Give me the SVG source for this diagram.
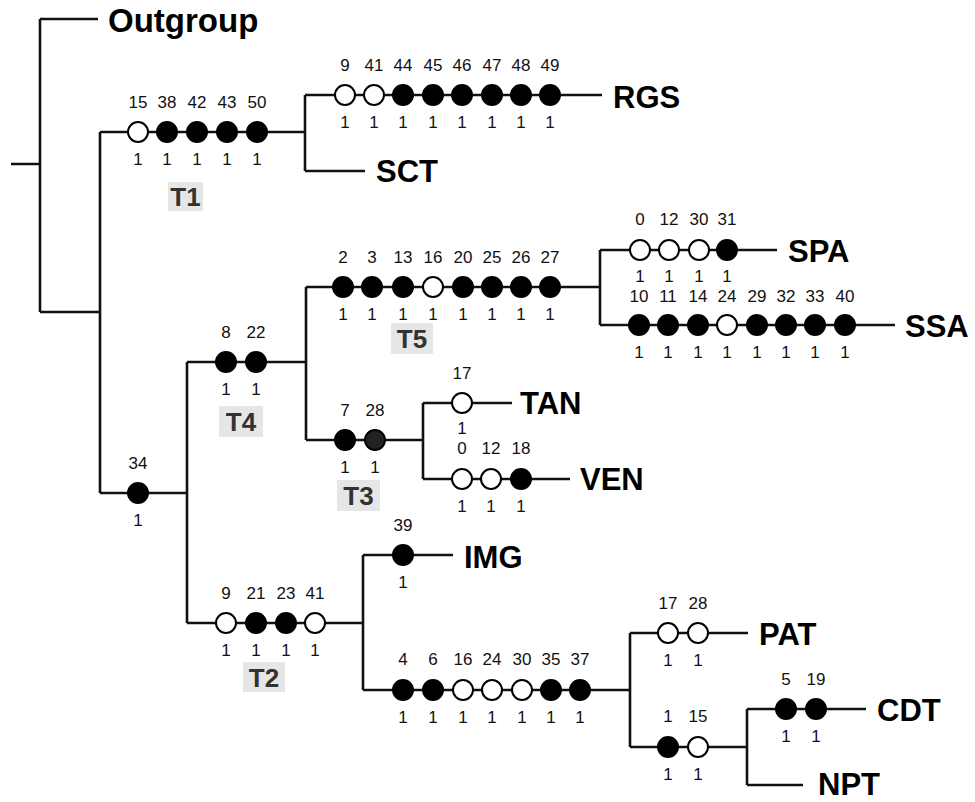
<svg xmlns="http://www.w3.org/2000/svg" width="975" height="802" viewBox="0 0 975 802">
<style>
.ln{stroke:#111;stroke-width:2.6;fill:none}
.f{fill:#000;stroke:#000;stroke-width:2}
.o{fill:#fff;stroke:#000;stroke-width:2}
.n{font-family:"Liberation Sans",Arial,sans-serif;font-size:17px;fill:#111;text-anchor:middle}
.tx{font-family:"Liberation Sans",Arial,sans-serif;font-size:31px;font-weight:bold;fill:#000}
.bx{fill:#e6e6e6}
.bt{font-family:"Liberation Sans",Arial,sans-serif;font-size:26px;font-weight:bold;fill:#333;text-anchor:middle}
</style>
<rect width="975" height="802" fill="#fff"/>
<g id="connectors" class="ln">
<path d="M11,164H40M40,19V312M40,19H98M40,312H100M100,132V493"/>
<path d="M100,132H305M305,95V171M305,95H602M305,171H365"/>
<path d="M100,493H187M187,362V623M187,362H306M306,287V440"/>
<path d="M306,287H600M600,250V325M600,250H777M600,325H895"/>
<path d="M306,440H423M423,403V479M423,403H512M423,479H570"/>
<path d="M187,623H363M363,555V690M363,555H453M363,690H630"/>
<path d="M630,633V747M630,633H748M630,747H747M747,709V785M747,709H866M747,785H803"/>
</g>
<g id="Outgroup"><text class="tx" x="108" y="32" style="font-size:33px">Outgroup</text></g>
<g id="T1">
<circle class="o" cx="138" cy="132" r="10"/><circle class="f" cx="167" cy="132" r="10"/><circle class="f" cx="197" cy="132" r="10"/><circle class="f" cx="227" cy="132" r="10"/><circle class="f" cx="257" cy="132" r="10"/>
<text class="n" y="108"><tspan x="138">15</tspan><tspan x="167">38</tspan><tspan x="197">42</tspan><tspan x="227">43</tspan><tspan x="257">50</tspan></text>
<text class="n" y="165"><tspan x="138">1</tspan><tspan x="167">1</tspan><tspan x="197">1</tspan><tspan x="227">1</tspan><tspan x="257">1</tspan></text>
<rect class="bx" x="168" y="182" width="35" height="29"/><text class="bt" x="185.5" y="206">T1</text>
</g>
<g id="RGS">
<circle class="o" cx="345" cy="95" r="10"/><circle class="o" cx="374" cy="95" r="10"/><circle class="f" cx="403" cy="95" r="10"/><circle class="f" cx="433" cy="95" r="10"/><circle class="f" cx="462" cy="95" r="10"/><circle class="f" cx="492" cy="95" r="10"/><circle class="f" cx="521" cy="95" r="10"/><circle class="f" cx="550" cy="95" r="10"/>
<text class="n" y="71"><tspan x="345">9</tspan><tspan x="374">41</tspan><tspan x="403">44</tspan><tspan x="433">45</tspan><tspan x="462">46</tspan><tspan x="492">47</tspan><tspan x="521">48</tspan><tspan x="550">49</tspan></text>
<text class="n" y="128"><tspan x="345">1</tspan><tspan x="374">1</tspan><tspan x="403">1</tspan><tspan x="433">1</tspan><tspan x="462">1</tspan><tspan x="492">1</tspan><tspan x="521">1</tspan><tspan x="550">1</tspan></text>
<text class="tx" x="613" y="108">RGS</text>
</g>
<g id="SCT"><text class="tx" x="376" y="182">SCT</text></g>
<g id="N34">
<circle class="f" cx="138" cy="493" r="10"/>
<text class="n" x="138" y="469">34</text><text class="n" x="138" y="526">1</text>
</g>
<g id="T4">
<circle class="f" cx="226" cy="362" r="10"/><circle class="f" cx="256" cy="362" r="10"/>
<text class="n" y="338"><tspan x="226">8</tspan><tspan x="256">22</tspan></text>
<text class="n" y="395"><tspan x="226">1</tspan><tspan x="256">1</tspan></text>
<rect class="bx" x="219" y="406" width="44" height="31"/><text class="bt" x="241" y="431">T4</text>
</g>
<g id="T5">
<circle class="f" cx="343" cy="287" r="10"/><circle class="f" cx="372" cy="287" r="10"/><circle class="f" cx="403" cy="287" r="10"/><circle class="o" cx="433" cy="287" r="10"/><circle class="f" cx="463" cy="287" r="10"/><circle class="f" cx="492" cy="287" r="10"/><circle class="f" cx="521" cy="287" r="10"/><circle class="f" cx="550" cy="287" r="10"/>
<text class="n" y="263"><tspan x="343">2</tspan><tspan x="372">3</tspan><tspan x="403">13</tspan><tspan x="433">16</tspan><tspan x="463">20</tspan><tspan x="492">25</tspan><tspan x="521">26</tspan><tspan x="550">27</tspan></text>
<text class="n" y="320"><tspan x="343">1</tspan><tspan x="372">1</tspan><tspan x="403">1</tspan><tspan x="433">1</tspan><tspan x="463">1</tspan><tspan x="492">1</tspan><tspan x="521">1</tspan><tspan x="550">1</tspan></text>
<rect class="bx" x="391" y="323" width="42" height="31"/><text class="bt" x="412" y="348">T5</text>
</g>
<g id="SPA">
<circle class="o" cx="640" cy="250" r="10"/><circle class="o" cx="669" cy="250" r="10"/><circle class="o" cx="699" cy="250" r="10"/><circle class="f" cx="727" cy="250" r="10"/>
<text class="n" y="225"><tspan x="640">0</tspan><tspan x="669">12</tspan><tspan x="699">30</tspan><tspan x="727">31</tspan></text>
<text class="n" y="282"><tspan x="640">1</tspan><tspan x="669">1</tspan><tspan x="699">1</tspan><tspan x="727">1</tspan></text>
<text class="tx" x="788" y="262">SPA</text>
</g>
<g id="SSA">
<circle class="f" cx="639" cy="325" r="10"/><circle class="f" cx="668" cy="325" r="10"/><circle class="f" cx="698" cy="325" r="10"/><circle class="o" cx="727" cy="325" r="10"/><circle class="f" cx="757" cy="325" r="10"/><circle class="f" cx="786" cy="325" r="10"/><circle class="f" cx="815" cy="325" r="10"/><circle class="f" cx="845" cy="325" r="10"/>
<text class="n" y="302"><tspan x="639">10</tspan><tspan x="668">11</tspan><tspan x="698">14</tspan><tspan x="727">24</tspan><tspan x="757">29</tspan><tspan x="786">32</tspan><tspan x="815">33</tspan><tspan x="845">40</tspan></text>
<text class="n" y="358"><tspan x="639">1</tspan><tspan x="668">1</tspan><tspan x="698">1</tspan><tspan x="727">1</tspan><tspan x="757">1</tspan><tspan x="786">1</tspan><tspan x="815">1</tspan><tspan x="845">1</tspan></text>
<text class="tx" x="905" y="337">SSA</text>
</g>
<g id="T3">
<circle class="f" cx="345" cy="440" r="10"/><circle class="f" cx="375" cy="440" r="10" style="fill:#222"/>
<text class="n" y="416"><tspan x="345">7</tspan><tspan x="375">28</tspan></text>
<text class="n" y="473"><tspan x="345">1</tspan><tspan x="375">1</tspan></text>
<rect class="bx" x="337" y="480" width="43" height="31"/><text class="bt" x="358.5" y="505">T3</text>
</g>
<g id="TAN">
<circle class="o" cx="462" cy="403" r="10"/>
<text class="n" x="462" y="379">17</text><text class="n" x="462" y="434">1</text>
<text class="tx" x="520" y="414">TAN</text>
</g>
<g id="VEN">
<circle class="o" cx="462" cy="479" r="10"/><circle class="o" cx="491" cy="479" r="10"/><circle class="f" cx="521" cy="479" r="10"/>
<text class="n" y="454"><tspan x="462">0</tspan><tspan x="491">12</tspan><tspan x="521">18</tspan></text>
<text class="n" y="512"><tspan x="462">1</tspan><tspan x="491">1</tspan><tspan x="521">1</tspan></text>
<text class="tx" x="580" y="490">VEN</text>
</g>
<g id="T2">
<circle class="o" cx="226" cy="623" r="10"/><circle class="f" cx="256" cy="623" r="10"/><circle class="f" cx="286" cy="623" r="10"/><circle class="o" cx="315" cy="623" r="10"/>
<text class="n" y="599"><tspan x="226">9</tspan><tspan x="256">21</tspan><tspan x="286">23</tspan><tspan x="315">41</tspan></text>
<text class="n" y="656"><tspan x="226">1</tspan><tspan x="256">1</tspan><tspan x="286">1</tspan><tspan x="315">1</tspan></text>
<rect class="bx" x="243" y="662" width="42" height="30"/><text class="bt" x="264" y="687">T2</text>
</g>
<g id="IMG">
<circle class="f" cx="403" cy="555" r="10"/>
<text class="n" x="403" y="531">39</text><text class="n" x="403" y="588">1</text>
<text class="tx" x="464" y="568">IMG</text>
</g>
<g id="N4">
<circle class="f" cx="403" cy="690" r="10"/><circle class="f" cx="433" cy="690" r="10"/><circle class="o" cx="463" cy="690" r="10"/><circle class="o" cx="492" cy="690" r="10"/><circle class="o" cx="522" cy="690" r="10"/><circle class="f" cx="551" cy="690" r="10"/><circle class="f" cx="580" cy="690" r="10"/>
<text class="n" y="665"><tspan x="403">4</tspan><tspan x="433">6</tspan><tspan x="463">16</tspan><tspan x="492">24</tspan><tspan x="522">30</tspan><tspan x="551">35</tspan><tspan x="580">37</tspan></text>
<text class="n" y="723"><tspan x="403">1</tspan><tspan x="433">1</tspan><tspan x="463">1</tspan><tspan x="492">1</tspan><tspan x="522">1</tspan><tspan x="551">1</tspan><tspan x="580">1</tspan></text>
</g>
<g id="PAT">
<circle class="o" cx="668" cy="633" r="10"/><circle class="o" cx="698" cy="633" r="10"/>
<text class="n" y="609"><tspan x="668">17</tspan><tspan x="698">28</tspan></text>
<text class="n" y="666"><tspan x="668">1</tspan><tspan x="698">1</tspan></text>
<text class="tx" x="759" y="645">PAT</text>
</g>
<g id="N1">
<circle class="f" cx="668" cy="747" r="10"/><circle class="o" cx="698" cy="747" r="10"/>
<text class="n" y="722"><tspan x="668">1</tspan><tspan x="698">15</tspan></text>
<text class="n" y="780"><tspan x="668">1</tspan><tspan x="698">1</tspan></text>
</g>
<g id="CDT">
<circle class="f" cx="786" cy="709" r="10"/><circle class="f" cx="816" cy="709" r="10"/>
<text class="n" y="685"><tspan x="786">5</tspan><tspan x="816">19</tspan></text>
<text class="n" y="742"><tspan x="786">1</tspan><tspan x="816">1</tspan></text>
<text class="tx" x="877" y="721">CDT</text>
</g>
<g id="NPT"><text class="tx" x="818" y="795">NPT</text></g>
</svg>
